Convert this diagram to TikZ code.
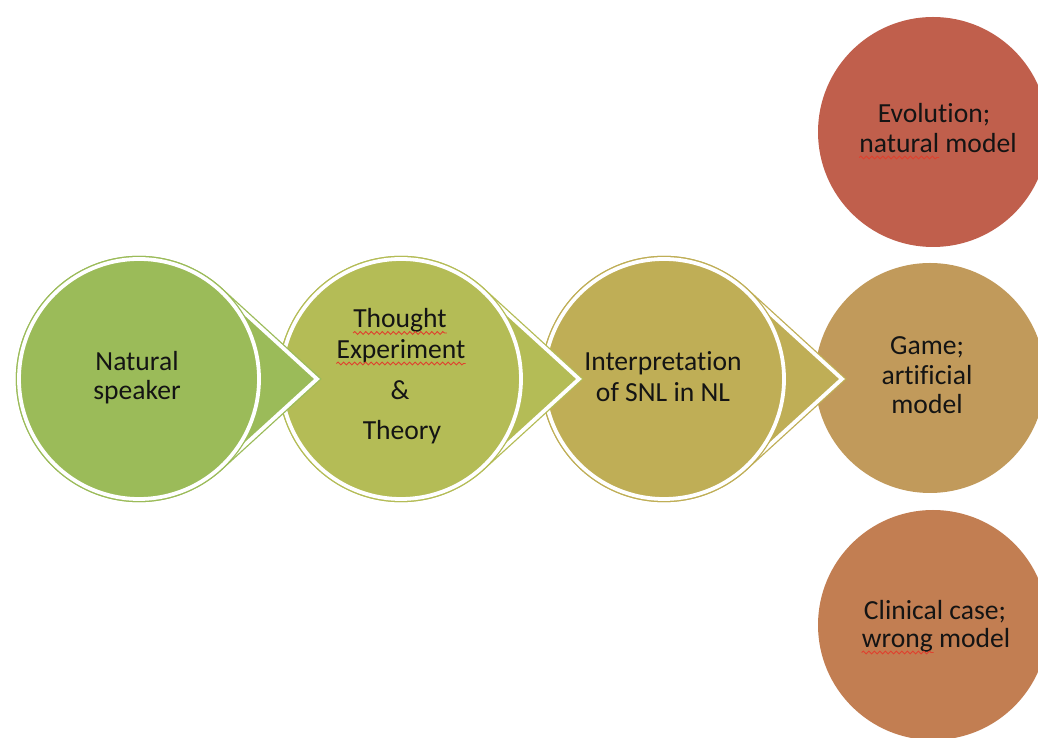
\documentclass[tikz,border=0pt]{standalone}
\usepackage{fontspec}
\setmainfont{Carlito}[Ligatures={NoCommon}]
\usetikzlibrary{calc,decorations.pathmorphing}
\definecolor{cA}{HTML}{9BBB59}
\definecolor{cB}{HTML}{B4BC56}
\definecolor{cC}{HTML}{BFAE56}
\definecolor{cD}{HTML}{C19A5B}
\definecolor{cE}{HTML}{C05F4C}
\definecolor{cF}{HTML}{C27E52}
\definecolor{txt}{HTML}{141414}
\definecolor{squigred}{HTML}{E0402E}
\newcommand\tdrop[2]{%
  \path[fill=#2, ring=#2] ($(#1)+(47.6:120)$) arc[start angle=47.6, end angle=312.4, radius=120] -- ($(#1)+(178,0)$) -- cycle;
  \draw[ring=#2] (#1) circle[radius=120];
}
\begin{document}
\begin{tikzpicture}[x=1pt, y=1pt,
  lbl/.style={font=\fontsize{27.6}{30}\selectfont, text=txt, inner sep=0pt, anchor=base},
  ring/.style={draw=#1, double=white, line width=1.3pt, double distance=3.8pt},
  squig/.style={draw=squigred, line width=0.9pt, decorate, decoration={snake, amplitude=1.4pt, segment length=5.5pt}}]
\useasboundingbox (0,0) rectangle (1038,738);
\clip (0,0) rectangle (1038,738);
\fill[white] (0,0) rectangle (1038,738);
% centres
\coordinate (c1) at (139,359);
\coordinate (c2) at (401,359);
\coordinate (c3) at (664,359);
\coordinate (c4) at (930,360);
\coordinate (c5) at (933,606);
\coordinate (c6) at (933,113);
% right column
\fill[cD] (c4) circle[radius=115];
\fill[cE] (c5) circle[radius=115];
\fill[cF] (c6) circle[radius=115];
% process shapes (drawn from last to first)
\tdrop{c3}{cC}
\tdrop{c2}{cB}
\tdrop{c1}{cA}
% texts
\node[lbl] (ns1) at (137,367) {Natural};
\node[lbl] (ns2) at (137,338) {speaker};
\node[lbl] (th1) at (400,410) {Thought};
\node[lbl] (th2) at (401,379) {Experiment};
\node[lbl] (th3) at (400,338) {\&};
\node[lbl] (th4) at (402,298) {Theory};
\node[lbl] (in1) at (663,367) {Interpretation};
\node[lbl] (in2) at (663,336) {of SNL in NL};
\node[lbl] (ga1) at (927,383) {Game;};
\node[lbl] (ga2) at (927,353) {artificial};
\node[lbl] (ga3) at (927,324) {model};
\node[lbl] (ev1) at (934,615) {Evolution;};
\node[lbl] (ev2) at (938,585) {natural model};
\node[lbl] (cl1) at (935,118) {Clinical case;};
\node[lbl] (cl2) at (936,90) {wrong model};
% spell-check underlines
\draw[squig] ([yshift=-5pt]th1.base west) -- ([yshift=-5pt]th1.base east);
\draw[squig] ([yshift=-4.5pt]th2.base west) -- ([yshift=-4.5pt]th2.base east);
\draw[squig] ([yshift=-4.5pt]ev2.base west) -- ++(80,0);
\draw[squig] ([yshift=-4.5pt]cl2.base west) -- ++(72,0);
\end{tikzpicture}
\end{document}
